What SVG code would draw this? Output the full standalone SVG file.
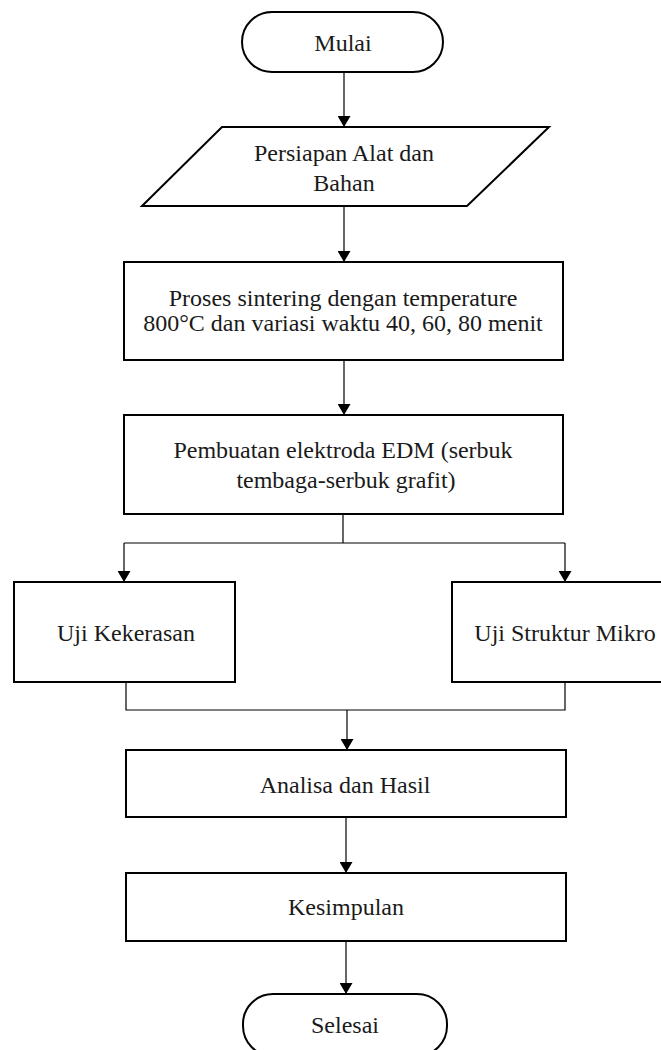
<svg xmlns="http://www.w3.org/2000/svg" width="661" height="1050" viewBox="0 0 661 1050">
<style>
.box{fill:#fff;stroke:#000;stroke-width:2}
.t{font-family:"Liberation Serif","Times New Roman",serif;font-size:24px;fill:#1a1a1a;text-anchor:middle}
.c{fill:none;stroke:#000;stroke-width:1.2}
</style>
<defs>
<marker id="arr" markerUnits="userSpaceOnUse" markerWidth="12" markerHeight="13" refX="11" refY="6.5" orient="auto">
<path d="M0,0 L11,6.5 L0,13 z" fill="#000"/>
</marker>
</defs>
<rect width="661" height="1050" fill="#fff"/>
<g id="connectors">
<line class="c" x1="344" y1="72" x2="344" y2="127" marker-end="url(#arr)"/>
<line class="c" x1="344" y1="206" x2="344" y2="262" marker-end="url(#arr)"/>
<line class="c" x1="344" y1="360" x2="344" y2="415" marker-end="url(#arr)"/>
<polyline class="c" points="343,514 343,543"/>
<polyline class="c" points="124,543 565,543"/>
<line class="c" x1="124" y1="543" x2="124" y2="582" marker-end="url(#arr)"/>
<line class="c" x1="565" y1="543" x2="565" y2="582" marker-end="url(#arr)"/>
<polyline class="c" points="126,682 126,710 565,710 565,682"/>
<line class="c" x1="347" y1="710" x2="347" y2="750" marker-end="url(#arr)"/>
<line class="c" x1="346" y1="817" x2="346" y2="873" marker-end="url(#arr)"/>
<line class="c" x1="346" y1="941" x2="346" y2="994" marker-end="url(#arr)"/>
</g>
<g id="mulai">
<rect class="box" x="242" y="12" width="201" height="60" rx="30" ry="30"/>
<text class="t" x="343" y="51">Mulai</text>
</g>
<g id="persiapan">
<polygon class="box" points="222,127 549,127 467,206 142,206"/>
<text class="t" x="344" y="161">Persiapan Alat dan</text>
<text class="t" x="344" y="191">Bahan</text>
</g>
<g id="sintering">
<rect class="box" x="124" y="262" width="439" height="98"/>
<text class="t" x="343" y="306">Proses sintering dengan temperature</text>
<text class="t" x="343" y="331">800°C  dan variasi waktu 40, 60, 80 menit</text>
</g>
<g id="pembuatan">
<rect class="box" x="124" y="415" width="439" height="99"/>
<text class="t" x="343" y="458">Pembuatan elektroda EDM  (serbuk</text>
<text class="t" x="346" y="488">tembaga-serbuk grafit)</text>
</g>
<g id="kekerasan">
<rect class="box" x="14" y="582" width="221" height="100"/>
<text class="t" x="126" y="641">Uji Kekerasan</text>
</g>
<g id="struktur">
<rect class="box" x="452" y="582" width="226" height="100"/>
<text class="t" x="565" y="641">Uji  Struktur Mikro</text>
</g>
<g id="analisa">
<rect class="box" x="126" y="750" width="440" height="67"/>
<text class="t" x="345" y="793">Analisa  dan Hasil</text>
</g>
<g id="kesimpulan">
<rect class="box" x="126" y="873" width="440" height="68"/>
<text class="t" x="346" y="915">Kesimpulan</text>
</g>
<g id="selesai">
<rect class="box" x="243" y="994" width="204" height="62" rx="30" ry="30"/>
<text class="t" x="345" y="1033">Selesai</text>
</g>
</svg>
